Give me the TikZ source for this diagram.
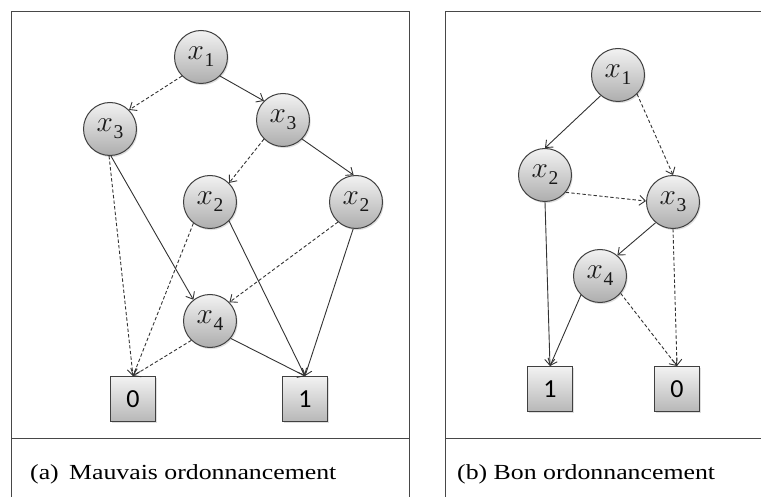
\documentclass[tikz,border=0pt]{standalone}
\usepackage{fontspec}
\setmainfont{Liberation Serif}
\newfontfamily\boxfont{Carlito}
\newcommand\varlbl[1]{\scalebox{1.18}{$x$}\kern0.5pt\raisebox{-7pt}{\fontsize{19.5}{21}\selectfont #1}}
\usetikzlibrary{arrows.meta,shadows}
\begin{document}
\begin{tikzpicture}[x=1pt,y=-1pt,
  frameline/.style={draw=black!72, line width=1pt},
  bddnode/.style={circle, draw=black!75, line width=1pt, minimum size=53pt, inner sep=0pt,
    top color=black!5, bottom color=black!32,
    drop shadow={opacity=0.25, shadow xshift=1.2pt, shadow yshift=-1.6pt},
    font=\fontsize{24.88}{27}\selectfont, text=black!90},
  termnode/.style={rectangle, draw=black!75, line width=1pt, minimum size=45pt, inner sep=0pt,
    top color=black!5, bottom color=black!28,
    drop shadow={opacity=0.25, shadow xshift=1.2pt, shadow yshift=-1.6pt},
    font=\boxfont\fontsize{26}{28}\selectfont, text=black},
  edge/.style={draw=black!80, line width=0.9pt, -{Straight Barb[length=6pt,width=10pt]}},
  solidedge/.style={edge},
  dashedge/.style={edge, dash pattern=on 3.4pt off 2.2pt},
  caption/.style={anchor=base west, inner sep=0pt, font=\fontsize{21.5}{24}\selectfont, text=black}
]
\useasboundingbox (0,0) rectangle (761,497);

% frames
\draw[frameline] (11,500) -- (11,11.5) -- (409.3,11.5) -- (409.3,500);
\draw[frameline] (11,438) -- (409.3,438);
\draw[frameline] (445.5,500) -- (445.5,11.5) -- (765,11.5);
\draw[frameline] (445.5,438) -- (765,438);

% left diagram
\node[bddnode] (a1)  at (201,57)  {\varlbl{1}};
\node[bddnode] (a3L) at (110,129) {\varlbl{3}};
\node[bddnode] (a3R) at (283,120) {\varlbl{3}};
\node[bddnode] (a2M) at (210,202) {\varlbl{2}};
\node[bddnode] (a2R) at (356,202) {\varlbl{2}};
\node[bddnode] (a4)  at (210,321) {\varlbl{4}};
\node[termnode] (a0)   at (133,399) {0};
\node[termnode] (aOne) at (305,399) {1};

\draw[dashedge]  (a1.-135) -- (a3L.45);
\draw[solidedge] (a1.-45) -- (a3R.135);
\draw[dashedge]  (a3R.-135) -- (a2M.45);
\draw[solidedge] (a3R.-45) -- (a2R.95);
\draw[dashedge]  (a3L.-92) -- (a0.north);
\draw[solidedge] (a3L.-88) -- (a4.128);
\draw[dashedge]  (a2M.-128) -- (a0.north);
\draw[solidedge] (a2M.-45) -- (aOne.north);
\draw[dashedge]  (a2R.-132) -- (a4.44);
\draw[solidedge] (a2R.-96) -- (aOne.north);
\draw[dashedge]  (a4.-134) -- (a0.north);
\draw[solidedge] (a4.-40) -- (aOne.north);

% right diagram
\node[bddnode] (b1) at (618,75)  {\varlbl{1}};
\node[bddnode] (b2) at (545,175) {\varlbl{2}};
\node[bddnode] (b3) at (673,202) {\varlbl{3}};
\node[bddnode] (b4) at (600,276) {\varlbl{4}};
\node[termnode] (bOne) at (550,389) {1};
\node[termnode] (b0)   at (677,389) {0};

\draw[solidedge] (b1.-130) -- (b2.north);
\draw[dashedge]  (b1.-45) -- (b3.north);
\draw[dashedge]  (b2.-40) -- (b3.178);
\draw[solidedge] (b2.south) -- (bOne.north);
\draw[solidedge] (b3.-130) -- (b4.50);
\draw[dashedge]  (b3.south) -- (b0.north);
\draw[solidedge] (b4.-135) -- (bOne.north);
\draw[dashedge]  (b4.-40) -- (b0.north);

% captions
\node[caption] (capa) at (30,479) {\scalebox{1.2}[1]{(a)\hspace{0.4em}Mauvais ordonnancement}};
\node[caption] (capb) at (457,479) {\scalebox{1.2}[1]{(b) Bon ordonnancement}};
\end{tikzpicture}
\end{document}
